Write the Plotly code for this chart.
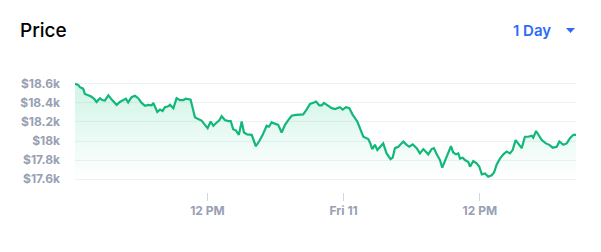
import plotly.graph_objects as go

times = [
    "2020-12-10 00:20", "2020-12-10 00:37", "2020-12-10 00:46", "2020-12-10 01:03", "2020-12-10 01:12",
    "2020-12-10 01:30", "2020-12-10 01:43", "2020-12-10 02:00", "2020-12-10 02:14", "2020-12-10 02:32",
    "2020-12-10 02:44", "2020-12-10 02:58", "2020-12-10 03:16", "2020-12-10 03:34", "2020-12-10 04:00",
    "2020-12-10 04:17", "2020-12-10 04:35", "2020-12-10 04:49", "2020-12-10 05:01", "2020-12-10 05:19",
    "2020-12-10 05:37", "2020-12-10 05:54", "2020-12-10 06:12", "2020-12-10 06:30", "2020-12-10 06:47",
    "2020-12-10 07:05", "2020-12-10 07:14", "2020-12-10 07:28", "2020-12-10 07:35", "2020-12-10 07:49",
    "2020-12-10 08:03", "2020-12-10 08:15", "2020-12-10 08:33", "2020-12-10 08:42", "2020-12-10 09:00",
    "2020-12-10 09:17", "2020-12-10 09:35", "2020-12-10 09:52", "2020-12-10 10:06", "2020-12-10 10:31",
    "2020-12-10 10:42", "2020-12-10 10:54", "2020-12-10 11:11", "2020-12-10 11:29", "2020-12-10 11:47",
    "2020-12-10 12:01", "2020-12-10 12:17", "2020-12-10 12:31", "2020-12-10 12:49", "2020-12-10 13:02",
    "2020-12-10 13:15", "2020-12-10 13:32", "2020-12-10 13:50", "2020-12-10 14:03", "2020-12-10 14:16",
    "2020-12-10 14:31", "2020-12-10 14:46", "2020-12-10 15:01", "2020-12-10 15:13", "2020-12-10 15:30",
    "2020-12-10 15:54", "2020-12-10 16:16", "2020-12-10 16:34", "2020-12-10 16:52", "2020-12-10 17:13",
    "2020-12-10 17:25", "2020-12-10 17:39", "2020-12-10 17:57", "2020-12-10 18:14", "2020-12-10 18:32",
    "2020-12-10 18:50", "2020-12-10 19:07", "2020-12-10 19:25", "2020-12-10 19:48", "2020-12-10 20:26",
    "2020-12-10 20:44", "2020-12-10 21:02", "2020-12-10 21:23", "2020-12-10 21:34", "2020-12-10 21:51",
    "2020-12-10 22:04", "2020-12-10 22:16", "2020-12-10 22:33", "2020-12-10 22:57", "2020-12-10 23:14",
    "2020-12-10 23:40", "2020-12-10 23:55", "2020-12-11 00:12", "2020-12-11 00:30", "2020-12-11 00:48",
    "2020-12-11 01:12", "2020-12-11 01:30", "2020-12-11 01:44", "2020-12-11 02:10", "2020-12-11 02:19",
    "2020-12-11 02:31", "2020-12-11 02:45", "2020-12-11 02:58", "2020-12-11 03:12", "2020-12-11 03:29",
    "2020-12-11 03:47", "2020-12-11 04:08", "2020-12-11 04:19", "2020-12-11 04:31", "2020-12-11 04:49",
    "2020-12-11 05:07", "2020-12-11 05:15", "2020-12-11 05:33", "2020-12-11 05:47", "2020-12-11 06:05",
    "2020-12-11 06:26", "2020-12-11 06:43", "2020-12-11 07:01", "2020-12-11 07:13", "2020-12-11 07:27",
    "2020-12-11 07:45", "2020-12-11 07:57", "2020-12-11 08:12", "2020-12-11 08:29", "2020-12-11 08:41",
    "2020-12-11 09:04", "2020-12-11 09:27", "2020-12-11 09:39", "2020-12-11 09:54", "2020-12-11 10:06",
    "2020-12-11 10:15", "2020-12-11 10:29", "2020-12-11 10:41", "2020-12-11 10:59", "2020-12-11 11:08",
    "2020-12-11 11:25", "2020-12-11 11:43", "2020-12-11 11:57", "2020-12-11 12:10", "2020-12-11 12:27",
    "2020-12-11 12:44", "2020-12-11 13:02", "2020-12-11 13:15", "2020-12-11 13:29", "2020-12-11 13:46",
    "2020-12-11 14:04", "2020-12-11 14:22", "2020-12-11 14:39", "2020-12-11 14:53", "2020-12-11 15:09",
    "2020-12-11 15:23", "2020-12-11 15:41", "2020-12-11 15:58", "2020-12-11 16:16", "2020-12-11 16:34",
    "2020-12-11 16:42", "2020-12-11 16:57", "2020-12-11 17:09", "2020-12-11 17:27", "2020-12-11 17:49",
    "2020-12-11 18:07", "2020-12-11 18:25", "2020-12-11 18:46", "2020-12-11 19:00", "2020-12-11 19:21",
    "2020-12-11 19:39", "2020-12-11 19:56", "2020-12-11 20:14", "2020-12-11 20:28",
]

prices = [
    18600, 18590, 18565, 18550, 18495, 18485, 18470, 18445, 18410, 18450,
    18430, 18425, 18480, 18435, 18380, 18410, 18435, 18445, 18405, 18460,
    18475, 18450, 18400, 18370, 18380, 18375, 18400, 18345, 18305, 18330,
    18315, 18355, 18365, 18380, 18345, 18450, 18430, 18430, 18445, 18435,
    18345, 18250, 18230, 18215, 18170, 18135, 18205, 18160, 18195, 18215,
    18260, 18220, 18210, 18210, 18125, 18110, 18065, 18205, 18090, 18070,
    18065, 17945, 18000, 18065, 18160, 18150, 18195, 18180, 18170, 18090,
    18170, 18220, 18265, 18275, 18280, 18330, 18390, 18405, 18415, 18375,
    18375, 18400, 18380, 18345, 18335, 18355, 18330, 18355, 18345, 18275,
    18205, 18105, 18045, 18020, 17985, 17915, 17960, 17905, 17940, 17975,
    17870, 17810, 17825, 17925, 17940, 17985, 17995, 17960, 17940, 17965,
    17925, 17870, 17915, 17890, 17860, 17915, 17925, 17860, 17800, 17720,
    17835, 17945, 17880, 17860, 17870, 17815, 17825, 17800, 17780, 17730,
    17790, 17765, 17730, 17650, 17660, 17625, 17640, 17670, 17755, 17815,
    17860, 17890, 17870, 17905, 18010, 17975, 17925, 18045, 18045, 18055,
    18035, 18105, 18070, 18010, 17975, 17960, 17930, 17940, 17995, 17960,
    17975, 18030, 18065, 18065,
]

y_ticks = [17600, 17800, 18000, 18200, 18400, 18600]
y_tick_labels = ["$17.6k", "$17.8k", "$18k", "$18.2k", "$18.4k", "$18.6k"]
x_ticks = ["2020-12-10 12:00", "2020-12-11 00:00", "2020-12-11 12:00"]
x_tick_labels = ["12 PM", "Fri 11", "12 PM"]

GREEN = "#12b87a"
GRAY = "#98a0b4"
BLUE = "#2f6cf6"

fig = go.Figure()
fig.add_trace(go.Scatter(
    x=times, y=prices, mode="lines",
    line=dict(color=GREEN, width=2.2),
    fill="tozeroy",
    fillgradient=dict(
        type="vertical",
        start=17600, stop=18600,
        colorscale=[[0, "rgba(22,199,132,0.0)"], [1, "rgba(22,199,132,0.2)"]],
    ),
    hoverinfo="skip",
))

fig.update_layout(
    width=601, height=252,
    margin=dict(l=75, r=25, t=82, b=60),
    paper_bgcolor="white", plot_bgcolor="white",
    showlegend=False,
    font=dict(family="Inter", color=GRAY),
    xaxis=dict(
        range=["2020-12-10 00:20", "2020-12-11 20:28"],
        tickvals=x_ticks, ticktext=x_tick_labels,
        showgrid=False, zeroline=False, showline=False,
        ticks="outside", ticklen=8, tickwidth=1, tickcolor="#cfd6e4",
        tickfont=dict(family="Inter", size=12, color=GRAY, weight=700),
        anchor="free", position=0,
    ),
    yaxis=dict(
        domain=[0.1, 1],
        range=[17580, 18620],
        tickvals=y_ticks, ticktext=y_tick_labels,
        showgrid=True, gridcolor="#eff2f5", gridwidth=1,
        zeroline=False, showline=False, ticks="",
        ticklabelstandoff=14,
        tickfont=dict(family="Inter", size=12, color=GRAY, weight=700),
    ),
)

fig.add_annotation(
    text="Price", xref="paper", yref="paper", x=(18-75)/501, y=1,
    xanchor="left", yanchor="middle", yshift=82-30,
    showarrow=False, font=dict(family="Inter", size=19, color="#000000", weight=500),
)
fig.add_annotation(
    text="1 Day", xref="paper", yref="paper", x=(553-75)/501, y=1,
    xanchor="right", yanchor="middle", yshift=82-30,
    showarrow=False, font=dict(family="Inter", size=15, color=BLUE, weight=600),
)
# dropdown caret
fig.add_shape(
    type="path", xref="paper", yref="paper",
    path="M {x0},{y0} L {x1},{y0} L {xm},{y1} Z".format(
        x0=(566-75)/501, x1=(575-75)/501, xm=(570.5-75)/501,
        y0=(252-60-28)/110, y1=(252-60-33)/110,
    ),
    fillcolor=BLUE, line=dict(width=0),
)

fig.write_html("out.html")
